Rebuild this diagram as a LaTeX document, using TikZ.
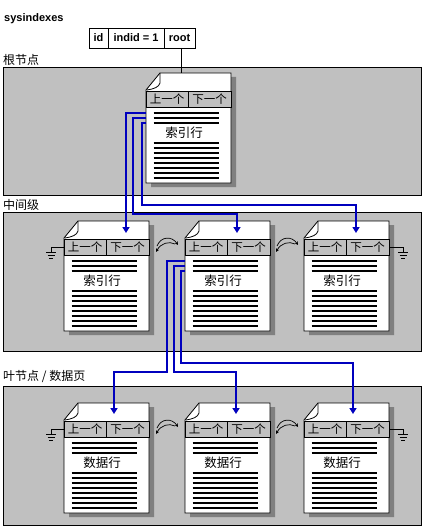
\documentclass[tikz,border=0pt]{standalone}
\usepackage{fontspec}
\setmainfont{Liberation Sans}
\newfontfamily\cjk{Noto Sans CJK SC}
\usetikzlibrary{arrows.meta}
\definecolor{panelgray}{RGB}{192,192,192}
\definecolor{shadowgray}{RGB}{128,128,128}
\definecolor{linkblue}{RGB}{0,0,190}
\tikzset{
  panel/.style={fill=panelgray,draw=black,line width=0.8pt},
  pageline/.style={draw=black,line width=0.8pt},
  rowline/.style={line width=2pt},
  hdrtext/.style={font=\cjk\fontsize{11.5}{13}\selectfont,inner sep=0pt},
  bodytext/.style={font=\cjk\fontsize{12.5}{14}\selectfont,inner sep=0pt},
  lbl/.style={font=\cjk\fontsize{12}{14}\selectfont,inner sep=0pt,anchor=west},
  pagebox/.style={draw=none,minimum width=85pt,minimum height=110pt,inner sep=0pt,outer sep=0pt,anchor=north west},
  link/.style={draw=linkblue,line width=2pt,-{Triangle[width=7pt,length=6pt]}},
  cell/.style={draw=black,fill=white,line width=0.8pt,minimum height=20pt,inner sep=0pt,outer sep=0pt,font=\bfseries\fontsize{11}{13}\selectfont},
  rootlink/.style={line width=1.6pt},
  gline/.style={line width=0.8pt},
  swaparrow/.style={line width=0.7pt,-{Stealth[length=3.5pt,width=3.5pt]}},
}
\newcommand\docpage[4]{%
\begin{scope}[shift={(#2,#3)}]
  \fill[shadowgray] (85,4) -- (90,4) -- (90,114) -- (5,114) -- (5,110) -- (85,110) -- cycle;
  \draw[pageline,fill=white] (0,17) -- (14,0) -- (85,0) -- (85,110) -- (0,110) -- cycle;
  \draw[pageline] (14,0) -- (14,10) .. controls (13,14) and (8,16) .. (1,17);
  \draw[pageline,fill=panelgray] (0,18) rectangle (85,34);
  \draw[pageline] (42,18) -- (42,34);
  \node[hdrtext] (#1-prev) at (21,26) {上一个};
  \node[hdrtext] (#1-next) at (63.5,26) {下一个};
  \foreach \yy in {40,45,50,70,75,80,85,90,95,100,105}{\draw[rowline] (7.5,\yy) -- (72.5,\yy);}
  \node[bodytext] (#1-text) at (38,60) {#4};
  \node[pagebox] (#1) at (0,0) {};
  \coordinate (#1-r1) at (0,40);
  \coordinate (#1-r2) at (0,45);
  \coordinate (#1-r3) at (0,50);
\end{scope}}
\newcommand\groundsym[2]{%
\begin{scope}[shift={(#1,#2)}]
  \draw[gline] (-5,0) -- (5,0);
  \draw[gline] (-3.5,3) -- (3.5,3);
  \draw[gline] (-2,6) -- (2,6);
\end{scope}}
\newcommand\swapicon[2]{%
\begin{scope}[shift={(#1,#2)}]
  \draw[swaparrow] (-10,1) .. controls (-6,-9) and (5,-9) .. (11,0);
  \draw[swaparrow] (8,-1) .. controls (2,-4) and (-6,-2) .. (-11,7);
\end{scope}}
\begin{document}
\begin{tikzpicture}[x=1pt,y=-1pt]
\fill[white] (0,0) rectangle (425,532);
\useasboundingbox (0,0) rectangle (425,532);

% panels
\path[panel] (3,67) rectangle (421,195);
\path[panel] (3,212) rectangle (421,351);
\path[panel] (3,386) rectangle (421,525);

% labels
\node[anchor=west,inner sep=0pt,font=\bfseries\fontsize{11}{13}\selectfont] (sysidx) at (4,19) {sysindexes};
\node[lbl] (lab1) at (3,60) {根节点};
\node[lbl] (lab2) at (3,205) {中间级};
\node[lbl] (lab3) at (3,377) {叶节点 / 数据页};

% table
\node[cell,minimum width=19pt] (idcell) at (98.5,38) {id};
\node[cell,minimum width=56pt] (indidcell) at (136,38) {indid = 1};
\node[cell,minimum width=31pt] (rootcell) at (179.5,38) {root};

% pages
\docpage{root}{146}{73}{索引行}
\docpage{m1}{64}{221}{索引行}
\docpage{m2}{185}{221}{索引行}
\docpage{m3}{304}{221}{索引行}
\docpage{l1}{64}{403}{数据行}
\docpage{l2}{185}{403}{数据行}
\docpage{l3}{304}{403}{数据行}

% root pointer
\draw[rootlink] ([xshift=2pt]rootcell.south) -- ([xshift=2pt]rootcell.south |- root.north);

% grounds
\coordinate (gm1) at (51,252);
\coordinate (gm3) at (403,252);
\coordinate (gl1) at (51,434);
\coordinate (gl3) at (403,434);
\draw[gline] (m1.west |- m1-prev) -| (gm1);
\draw[gline] (m3.east |- m3-next) -| (gm3);
\draw[gline] (l1.west |- l1-prev) -| (gl1);
\draw[gline] (l3.east |- l3-next) -| (gl3);
\groundsym{51}{252}
\groundsym{403}{252}
\groundsym{51}{434}
\groundsym{403}{434}

% swap icons
\swapicon{167}{245}
\swapicon{287}{245}
\swapicon{167}{427}
\swapicon{287}{427}

% blue links root -> middle
\coordinate (m1-in) at (126,233);
\coordinate (m2-in) at (237,233);
\coordinate (m3-in) at (356,233);
\coordinate (b2) at (133,214);
\coordinate (b3) at (142,205);
\draw[link] (root-r1) -| (m1-in);
\draw[link] (root-r2) -| (b2) -| (m2-in);
\draw[link] (root-r3) -| (b3) -| (m3-in);

% blue links middle -> leaf
\coordinate (l1-in) at (114,414);
\coordinate (l2-in) at (236,414);
\coordinate (l3-in) at (353,414);
\coordinate (c1) at (167,372);
\coordinate (c2) at (174,372);
\coordinate (c3) at (181,363);
\draw[link] (m2-r1) -| (c1) -| (l1-in);
\draw[link] (m2-r2) -| (c2) -| (l2-in);
\draw[link] (m2-r3) -| (c3) -| (l3-in);
\end{tikzpicture}
\end{document}
